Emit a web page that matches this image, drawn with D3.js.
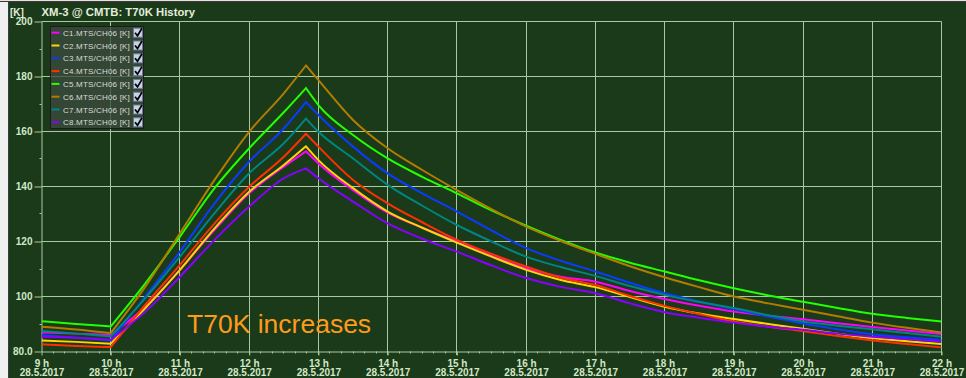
<!DOCTYPE html>
<html><head><meta charset="utf-8">
<script src="https://cdn.jsdelivr.net/npm/d3@7"></script>
<style>
html,body{margin:0;padding:0;background:#1a3a1a;}
svg{display:block;}
text{font-family:"Liberation Sans",Arial,sans-serif;}
</style></head><body>
<svg id="chart" width="966" height="378"></svg>
<script>
// ---- data ----
const times = [9, 9.5, 10, 10.5, 11, 11.5, 12, 12.5, 12.82, 13, 13.5, 14, 14.5, 15, 15.5, 16, 16.5, 17, 17.5, 18, 18.5, 19, 19.5, 20, 20.5, 21, 21.5, 22];
const c1 = [87.0, 86.5, 86.0, 96.3, 109.7, 124.2, 137.5, 147.2, 152.8, 148.4, 138.7, 130.5, 125.0, 120.0, 115.0, 110.3, 107.2, 105.4, 102.0, 99.1, 96.6, 94.5, 93.0, 91.7, 90.3, 88.9, 87.6, 86.4];
const c2 = [84.0, 83.5, 82.8, 95.8, 109.7, 124.8, 138.1, 147.8, 154.6, 149.6, 139.4, 130.9, 125.0, 119.6, 114.5, 109.7, 106.0, 103.4, 99.8, 96.3, 93.8, 91.8, 90.0, 88.3, 86.5, 84.9, 83.7, 82.7];
const c3 = [86.0, 85.0, 84.0, 100.0, 116.3, 133.9, 149.0, 161.1, 170.7, 166.0, 154.5, 144.8, 137.5, 130.9, 124.0, 117.6, 113.0, 109.1, 105.0, 101.2, 98.2, 95.4, 92.7, 90.2, 88.1, 86.3, 85.2, 84.2];
const c4 = [82.6, 82.0, 81.6, 97.0, 111.5, 126.6, 139.9, 150.8, 159.2, 154.5, 142.4, 133.9, 127.0, 120.6, 115.5, 110.9, 106.8, 104.2, 100.2, 96.6, 93.6, 90.9, 89.0, 87.4, 85.6, 84.0, 82.7, 81.5];
const c5 = [91.0, 90.0, 89.1, 104.8, 121.8, 139.4, 153.9, 167.0, 175.8, 169.6, 158.7, 150.2, 143.5, 137.5, 131.3, 125.8, 120.6, 116.0, 112.3, 109.1, 105.9, 103.0, 100.4, 98.1, 95.8, 93.7, 92.2, 90.9];
const c6 = [89.0, 88.0, 86.7, 103.6, 123.0, 142.4, 159.9, 173.9, 184.0, 178.7, 164.2, 153.9, 146.0, 138.7, 131.8, 125.4, 120.2, 115.5, 111.0, 107.0, 103.4, 100.0, 97.5, 95.2, 92.8, 90.5, 88.6, 86.9];
const c7 = [87.5, 86.5, 85.5, 99.4, 114.5, 130.3, 144.8, 155.7, 164.7, 159.9, 150.2, 140.6, 133.0, 126.0, 120.0, 114.5, 110.7, 107.5, 103.8, 100.6, 98.0, 95.8, 93.2, 90.9, 89.4, 88.1, 86.7, 85.4];
const c8 = [85.4, 85.0, 84.3, 94.5, 107.2, 120.6, 132.7, 143.0, 146.6, 143.0, 134.5, 126.6, 121.0, 116.3, 111.3, 106.7, 103.5, 101.2, 97.5, 94.3, 92.3, 90.5, 89.0, 87.9, 86.5, 85.4, 84.5, 83.6];
const seriesNames = ["C1.MTS/CH06 [K]", "C2.MTS/CH06 [K]", "C3.MTS/CH06 [K]", "C4.MTS/CH06 [K]", "C5.MTS/CH06 [K]", "C6.MTS/CH06 [K]", "C7.MTS/CH06 [K]", "C8.MTS/CH06 [K]"];
const seriesValues = [c1, c2, c3, c4, c5, c6, c7, c8];
const seriesColors = ["#ff00ff", "#ffd400", "#0a3cff", "#ff3000", "#22ff00", "#b07d00", "#008484", "#8800ff"];
const phaseBreaks = [10, 12.82]; // heater switched on / off
const xTicks = [9, 10, 11, 12, 13, 14, 15, 16, 17, 18, 19, 20, 21, 22];
const dateLabel = "28.5.2017";
const yTicks = [80, 100, 120, 140, 160, 180, 200];
const yMinor = [90, 110, 130, 150, 170, 190];
const title = "XM-3 @ CMTB: T70K History";
const unit = "[K]";
const annotation = "T70K increases";

// ---- drawing ----
const W = 966, H = 378;
const svg = d3.select("#chart");
const bg = "#1a3a1a", grid = "#a9c9a1", txt = "#d2e8c6";

svg.append("rect").attr("width", W).attr("height", H).attr("fill", bg);
svg.append("rect").attr("x", 0).attr("y", 0).attr("width", 8).attr("height", H).attr("fill", "#f0f0f0");
svg.append("rect").attr("x", 8).attr("y", 0).attr("width", 1).attr("height", H).attr("fill", "#3c3c3c");
svg.append("rect").attr("x", 0).attr("y", 0).attr("width", W).attr("height", 1).attr("fill", "#ebe3df");
svg.append("rect").attr("x", 0).attr("y", 1).attr("width", W).attr("height", 1).attr("fill", "#3a3a3a");

const x = d3.scaleLinear().domain([9, 22]).range([41.5, 941.5]);
const y = d3.scaleLinear().domain([80, 200]).range([351.5, 21.5]);
const px = v => Math.round(x(v) - 0.5) + 0.5;
const py = v => Math.round(y(v) - 0.5) + 0.5;

// grid
const g = svg.append("g");
g.selectAll("line.h").data(yTicks.slice(1)).join("line")
  .attr("x1", x(9)).attr("x2", px(22)).attr("y1", py).attr("y2", py)
  .attr("stroke", grid).attr("stroke-width", 1);
g.selectAll("line.v").data(xTicks.slice(1)).join("line")
  .attr("x1", px).attr("x2", px).attr("y1", py(200)).attr("y2", 355)
  .attr("stroke", grid).attr("stroke-width", 1);

// axes
const yAxis = d3.axisLeft(y).tickValues(yTicks).tickSize(7).tickSizeOuter(0).tickPadding(2)
  .tickFormat(d => d === 80 ? "80.0" : String(d));
const ya = svg.append("g").attr("transform", `translate(${px(9)},0)`).call(yAxis);
ya.select(".domain").attr("stroke", grid);
ya.selectAll(".tick line").attr("stroke", grid);
ya.selectAll(".tick text").attr("fill", txt).attr("font-size", "10px").attr("font-weight", "bold")
  .attr("font-family", "'Liberation Sans',Arial,sans-serif");
ya.selectAll("line.minor").data(yMinor).join("line").attr("class", "minor")
  .attr("x1", -2).attr("x2", 0).attr("y1", py).attr("y2", py).attr("stroke", grid);

const xAxis = d3.axisBottom(x).tickValues(xTicks).tickSize(4).tickSizeOuter(0)
  .tickFormat(d => d + " h");
const xa = svg.append("g").attr("transform", `translate(0,${py(80)})`).call(xAxis);
xa.select(".domain").attr("stroke", grid);
xa.selectAll(".tick line").attr("stroke", grid);
xa.selectAll(".tick text").attr("fill", txt).attr("font-size", "10px").attr("font-weight", "bold")
  .attr("font-family", "'Liberation Sans',Arial,sans-serif").attr("y", 15).attr("dy", 0);
xa.selectAll(".tick").append("text").text(dateLabel)
  .attr("fill", txt).attr("font-size", "10px").attr("font-weight", "bold")
  .attr("text-anchor", "middle").attr("y", 24.5)
  .attr("font-family", "'Liberation Sans',Arial,sans-serif");
const minorX = d3.range(9 * 6, 22 * 6 + 1).map(v => v / 6).filter(v => Math.abs(v - Math.round(v)) > 1e-6);
xa.selectAll("line.minor").data(minorX).join("line").attr("class", "minor")
  .attr("x1", px).attr("x2", px).attr("y1", 0).attr("y2", 2).attr("stroke", grid);

// title
svg.append("text").attr("x", 10).attr("y", 16).text(unit)
  .attr("fill", "#e4eedc").attr("font-size", "10px").attr("font-weight", "bold");
svg.append("text").attr("x", 41.5).attr("y", 16).text(title)
  .attr("fill", "#e4eedc").attr("font-size", "11.3px").attr("font-weight", "bold");

// lines (each phase drawn as a smooth monotone piece, sharp corners at phase breaks)
svg.append("clipPath").attr("id", "clip").append("rect")
  .attr("x", x(9)).attr("y", y(200)).attr("width", x(22) - x(9)).attr("height", y(80) - y(200));
const line = d3.line().x(d => x(d[0])).y(d => y(d[1])).curve(d3.curveMonotoneX);
const lg = svg.append("g").attr("clip-path", "url(#clip)");
const bounds = [times[0], ...phaseBreaks, times[times.length - 1]];
seriesValues.forEach((vals, i) => {
  const pts = times.map((t, j) => [t, vals[j]]);
  let d = "";
  for (let k = 0; k < bounds.length - 1; k++) {
    const seg = pts.filter(p => p[0] >= bounds[k] - 1e-9 && p[0] <= bounds[k + 1] + 1e-9);
    let s = line(seg);
    if (k > 0) s = "L" + s.slice(1);
    d += s;
  }
  lg.append("path").attr("d", d).attr("fill", "none").attr("stroke", seriesColors[i])
    .attr("stroke-width", 2).attr("stroke-linejoin", "miter");
});

// annotation
svg.append("text").attr("x", 187).attr("y", 333).text(annotation)
  .attr("fill", "#ff9a1a").attr("font-size", "26.5px");

// legend
const leg = svg.append("g");
leg.append("rect").attr("x", 50.5).attr("y", 26.5).attr("width", 93).attr("height", 102)
  .attr("fill", "rgba(60,76,62,0.78)").attr("stroke", "#1c1c1c");
seriesNames.forEach((n, i) => {
  const cy = 32.7 + i * 12.8;
  leg.append("line").attr("x1", 51.5).attr("x2", 59.5).attr("y1", cy).attr("y2", cy)
    .attr("stroke", seriesColors[i]).attr("stroke-width", 2);
  leg.append("text").attr("x", 63).attr("y", cy + 3).text(n)
    .attr("fill", "#d8dcd6").attr("font-size", "8px").attr("letter-spacing", "0.2px");
  leg.append("rect").attr("x", 133.5).attr("y", cy - 4.5).attr("width", 9).attr("height", 9)
    .attr("fill", "#c6d2e6").attr("stroke", "#6a7a96");
  leg.append("path").attr("d", `M${135},${cy} L${137.5},${cy + 3} L${142},${cy - 4.5}`)
    .attr("fill", "none").attr("stroke", "#000").attr("stroke-width", 1.7);
});
</script>
</body></html>
